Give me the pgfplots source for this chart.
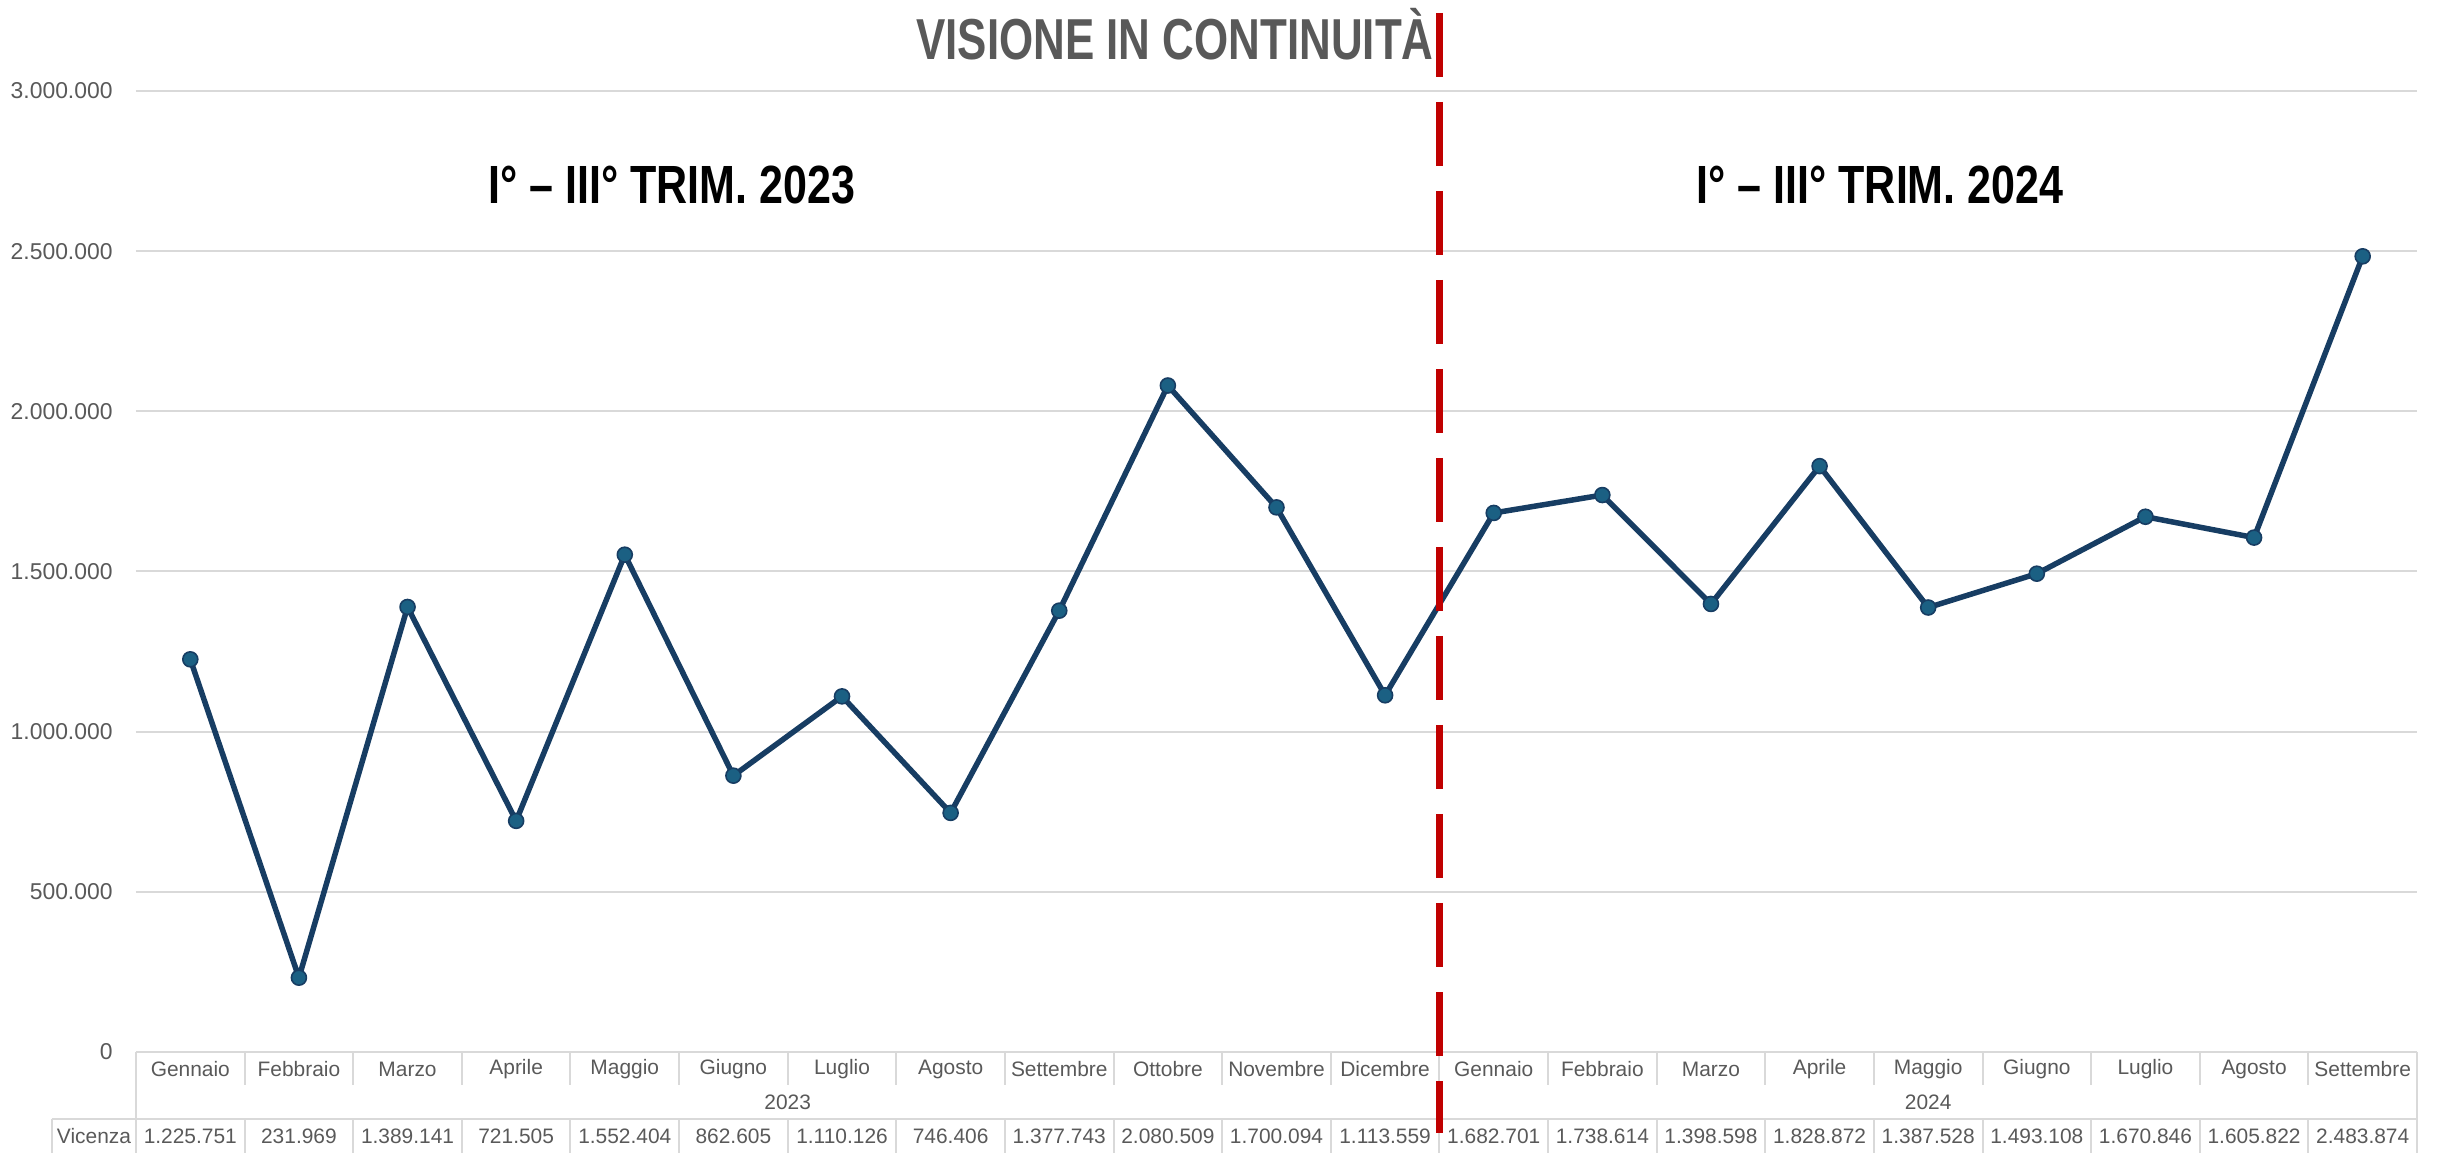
\documentclass[border=0pt]{standalone}
\usepackage{fontspec}
\setmainfont{Liberation Sans}
\newfontfamily\titlefont[FakeStretch=0.76]{Liberation Sans}
\newfontfamily\trimfont[FakeStretch=0.80]{Liberation Sans}
\usepackage{pgfplots}
\pgfplotsset{compat=1.18}
\definecolor{txtgray}{HTML}{595959}
\definecolor{gridgray}{HTML}{D9D9D9}
\definecolor{navy}{HTML}{173D63}
\definecolor{markfill}{HTML}{1B6083}
\definecolor{redline}{HTML}{C00000}

\begin{document}
\begin{tikzpicture}[x=1bp,y=1bp]
\useasboundingbox (-68,-50.5) rectangle (1152,526);
\begin{axis}[
  at={(0,0)}, anchor=south west,
  scale only axis, width=1140.5bp, height=480.5bp,
  xmin=-0.5, xmax=20.5, ymin=0, ymax=3000000,
  xtick=\empty,
  ytick={0,500000,1000000,1500000,2000000,2500000,3000000},
  scaled y ticks=false,
  axis line style={draw=none},
  major tick length=0pt,
  ymajorgrids, grid style={gridgray, line width=1bp},
  yticklabel style={font=\fontsize{11.5}{13}\selectfont, text=txtgray, inner sep=0pt, xshift=-11.5bp,
    /pgf/number format/fixed,
    /pgf/number format/1000 sep={.},
    /pgf/number format/assume math mode=true},
  clip=false,
]
\addplot[navy, line width=2.75bp, line join=round,
  mark=*, mark size=3.75bp,
  mark options={fill=markfill, draw=navy, line width=0.8bp}]
  coordinates {
  (0,1225751)(1,231969)(2,1389141)(3,721505)(4,1552404)(5,862605)
  (6,1110126)(7,746406)(8,1377743)(9,2080509)(10,1700094)(11,1113559)
  (12,1682701)(13,1738614)(14,1398598)(15,1828872)(16,1387528)
  (17,1493108)(18,1670846)(19,1605822)(20,2483874)
  };
\end{axis}

% data table under the axis
\def\w{54.3095}
\begin{scope}[gridgray, line width=1bp]
  \draw (0,0) -- (0,-50.5);
  \draw (1140.5,0) -- (1140.5,-50.5);
  \draw (-42,-33.5) -- (1140.5,-33.5);
  \draw (-42,-33.5) -- (-42,-50.5);
  \draw ({12*\w},-16.5) -- ({12*\w},-33.5);
  \foreach \i in {1,...,20} {
    \draw ({\i*\w},0) -- ({\i*\w},-16.5);
    \draw ({\i*\w},-33.5) -- ({\i*\w},-50.5);
  }
\end{scope}
\begin{scope}[every node/.style={text=txtgray, font=\fontsize{10.5}{12}\selectfont, inner sep=0pt}]
  \foreach \i/\m in {0/Gennaio,1/Febbraio,2/Marzo,3/Aprile,4/Maggio,5/Giugno,
      6/Luglio,7/Agosto,8/Settembre,9/Ottobre,10/Novembre,11/Dicembre,
      12/Gennaio,13/Febbraio,14/Marzo,15/Aprile,16/Maggio,17/Giugno,
      18/Luglio,19/Agosto,20/Settembre}
    \node at ({(\i+0.5)*\w},-8.5) {\m};
  \foreach \i/\v in {0/1.225.751,1/231.969,2/1.389.141,3/721.505,4/1.552.404,
      5/862.605,6/1.110.126,7/746.406,8/1.377.743,9/2.080.509,10/1.700.094,
      11/1.113.559,12/1.682.701,13/1.738.614,14/1.398.598,15/1.828.872,
      16/1.387.528,17/1.493.108,18/1.670.846,19/1.605.822,20/2.483.874}
    \node at ({(\i+0.5)*\w},-42) {\v};
  \node at ({6*\w},-25) {2023};
  \node at ({16.5*\w},-25) {2024};
  \node at (-21,-42) {Vicenza};
\end{scope}

% titles and period labels
\node[anchor=base, text=txtgray, inner sep=0pt,
  font=\titlefont\bfseries\fontsize{29}{32}\selectfont] at (519.5,496) {VISIONE IN CONTINUITÀ};
\node[anchor=base, inner sep=0pt,
  font=\trimfont\bfseries\fontsize{27}{30}\selectfont] at (268,424) {I° – III° TRIM. 2023};
\node[anchor=base, inner sep=0pt,
  font=\trimfont\bfseries\fontsize{27}{30}\selectfont] at (872,424) {I° – III° TRIM. 2024};

% separator between the two periods
\draw[redline, line width=3.5bp, dash pattern=on 32bp off 12.5bp] ({12*\w},519.5) -- ({12*\w},-40.5);
\end{tikzpicture}
\end{document}
